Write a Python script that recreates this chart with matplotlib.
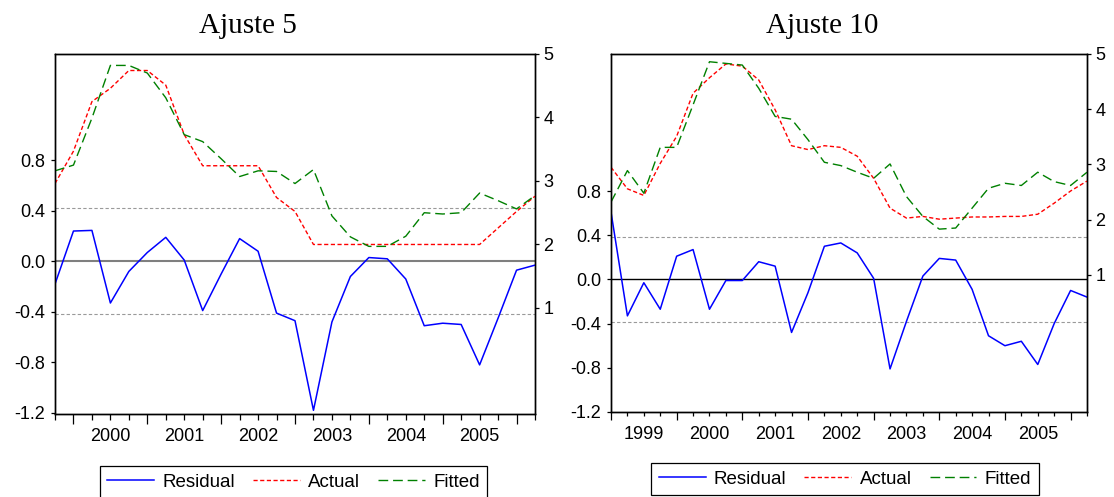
import matplotlib
matplotlib.use("Agg")
import matplotlib.pyplot as plt
import numpy as np
import pandas as pd

plt.rcParams["font.family"] = ["Liberation Sans", "DejaVu Sans"]
plt.rcParams["axes.unicode_minus"] = False

# ---------------- data: Ajuste 5 (1999Q4 - 2006Q2) ----------------
start_5 = "1999Q4"
resid_5 = [-0.18, 0.24, 0.245, -0.33, -0.08, 0.07, 0.19, 0.01, -0.39, -0.10,
           0.18, 0.08, -0.41, -0.47, -1.18, -0.48, -0.12, 0.03, 0.02, -0.14,
           -0.51, -0.49, -0.50, -0.82, -0.45, -0.07, -0.03]
actual_5 = [2.96, 3.47, 4.25, 4.46, 4.74, 4.74, 4.51, 3.73, 3.24, 3.24,
            3.24, 3.24, 2.74, 2.52, 2.00, 2.00, 2.00, 2.00, 2.00, 2.00,
            2.00, 2.00, 2.00, 2.00, 2.26, 2.52, 2.76]
fitted_5 = [3.16, 3.25, 3.99, 4.82, 4.82, 4.70, 4.31, 3.73, 3.62, 3.35,
            3.07, 3.16, 3.15, 2.96, 3.18, 2.45, 2.12, 1.97, 1.97, 2.13,
            2.50, 2.48, 2.50, 2.81, 2.69, 2.56, 2.77]
se_5 = 0.42
years_5 = ["2000", "2001", "2002", "2003", "2004", "2005"]

# ---------------- data: Ajuste 10 (1999Q1 - 2006Q2) ----------------
start_10 = "1999Q1"
resid_10 = [0.61, -0.33, -0.03, -0.27, 0.21, 0.27, -0.27, -0.01, -0.01, 0.16,
            0.12, -0.48, -0.12, 0.30, 0.33, 0.24, 0.01, -0.81, -0.38, 0.03,
            0.19, 0.175, -0.09, -0.51, -0.60, -0.56, -0.77, -0.40, -0.10, -0.16]
actual_10 = [2.95, 2.56, 2.44, 3.02, 3.51, 4.29, 4.57, 4.82, 4.78, 4.53,
             3.99, 3.34, 3.27, 3.34, 3.31, 3.15, 2.75, 2.21, 2.03, 2.06,
             2.01, 2.03, 2.05, 2.05, 2.06, 2.06, 2.10, 2.30, 2.52, 2.70]
fitted_10 = [2.32, 2.89, 2.48, 3.31, 3.31, 4.08, 4.86, 4.83, 4.80, 4.38,
             3.87, 3.82, 3.45, 3.04, 2.98, 2.86, 2.75, 3.01, 2.42, 2.06,
             1.83, 1.85, 2.21, 2.57, 2.66, 2.62, 2.86, 2.69, 2.62, 2.86]
se_10 = 0.387
years_10 = ["1999", "2000", "2001", "2002", "2003", "2004", "2005"]

left_ticks = [-1.2, -0.8, -0.4, 0.0, 0.4, 0.8]
right_ticks = [1, 2, 3, 4, 5]

W, H = 1114, 497
fig = plt.figure(figsize=(W / 100, H / 100), dpi=100)


def frac(x0, y0, x1, y1):
    return [x0 / W, 1 - y1 / H, (x1 - x0) / W, (y1 - y0) / H]


def panel(rect, start, resid, actual, fitted, se, ylim_l, ylim_r,
          zero_color, zero_lw, years, title, title_x, major_len, minor_len):
    ax = fig.add_axes(rect)
    periods = pd.period_range(start, periods=len(resid), freq="Q")
    x = np.array([p.year + (p.quarter - 1) / 4 for p in periods])
    ax.axhline(0, color=zero_color, lw=zero_lw, zorder=1)
    for v in (se, -se):
        ax.axhline(v, color="#9a9a9a", lw=0.8, ls=(0, (3, 2)), zorder=1)
    l_res, = ax.plot(x, resid, color="#0000ff", lw=1.1, label="Residual", zorder=3)
    ax.set_xlim(x[0], x[-1])
    ax.set_ylim(*ylim_l)
    ax.set_yticks(left_ticks)
    ax.yaxis.set_major_formatter("{x:.1f}")
    ax.tick_params(axis="y", direction="out", length=3, width=0.9,
                   labelsize=13, pad=4)

    ax2 = ax.twinx()
    l_act, = ax2.plot(x, actual, color="#ff0000", lw=1.0, ls=(0, (3, 1.8)),
                      label="Actual")
    l_fit, = ax2.plot(x, fitted, color="#008000", lw=1.0, ls=(0, (7, 3.5)),
                      label="Fitted")
    ax2.set_ylim(*ylim_r)
    ax2.set_yticks(right_ticks)
    ax2.tick_params(axis="y", direction="out", length=3, width=0.9,
                    labelsize=13, pad=3)

    # x axis: quarter ticks, longer at each year start, year labels centred
    yr0 = int(np.ceil(x[0]))
    yr1 = int(np.floor(x[-1]))
    ax.set_xticks(np.arange(yr0, yr1 + 1))
    ax.set_xticklabels([])
    ax.set_xticks(x, minor=True)
    ax.tick_params(axis="x", which="major", direction="out", length=major_len,
                   width=0.9)
    ax.tick_params(axis="x", which="minor", direction="out", length=minor_len,
                   width=0.9)
    sec = ax.secondary_xaxis("bottom")
    sec.set_xticks([int(y) + 0.5 for y in years], years)
    sec.tick_params(length=0, labelsize=13, pad=10)
    sec.spines["bottom"].set_visible(False)

    for a in (ax, ax2):
        for s in a.spines.values():
            s.set_linewidth(1.0)
            s.set_color("black")

    fig.text(title_x / W, 1 - 33 / H, title, family="Liberation Serif",
             fontsize=21, ha="center", va="baseline")
    return [l_res, l_act, l_fit]


h5 = panel(frac(55, 54, 535, 414), start_5, resid_5, actual_5, fitted_5, se_5,
           (-1.209, 1.642), (-0.67, 5.0), "#7f7f7f", 1.5, years_5,
           "Ajuste 5", 248, 7, 4)
h10 = panel(frac(611, 54, 1087, 412), start_10, resid_10, actual_10, fitted_10,
            se_10, (-1.2, 2.04), (-1.48, 5.0), "black", 1.0, years_10,
            "Ajuste 10", 822, 6, 3)

for handles, cx, top in ((h5, 293.5, 466), (h10, 845, 463)):
    leg = fig.legend(handles=handles, loc="upper center",
                     bbox_to_anchor=(cx / W, 1 - top / H), ncol=3,
                     fontsize=13.5, frameon=True, fancybox=False, shadow=False,
                     edgecolor="black", handlelength=2.5, handletextpad=0.45,
                     columnspacing=0.95, borderpad=0.4, borderaxespad=0)
    leg.get_frame().set_linewidth(0.9)
    leg.get_frame().set_alpha(1)

fig.savefig("out.png", dpi=100)
